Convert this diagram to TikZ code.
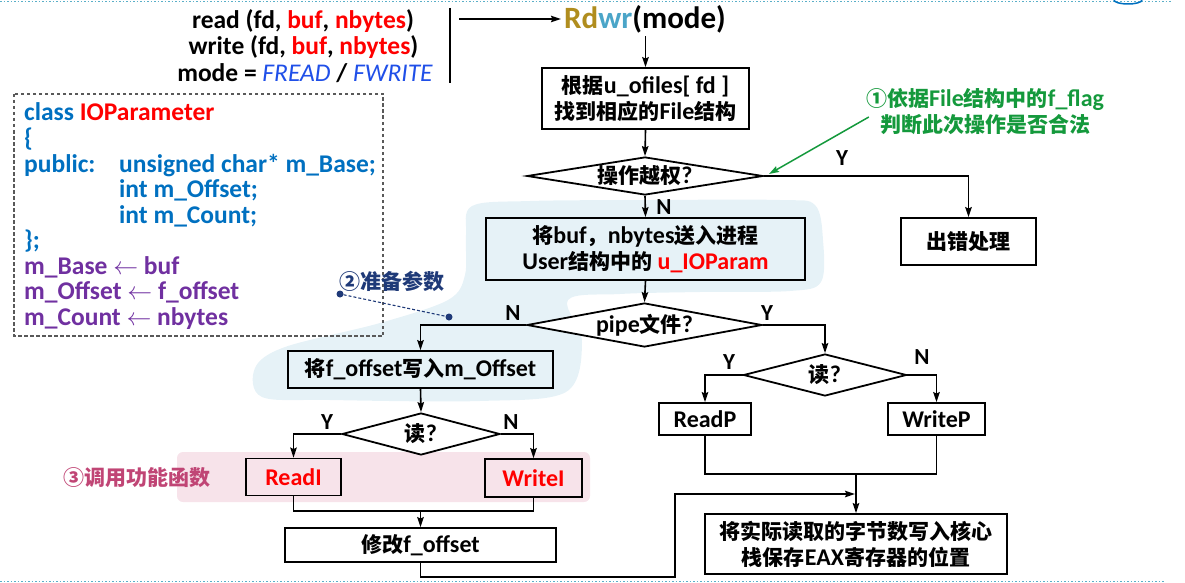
\documentclass[tikz,border=0pt]{standalone}
\usepackage{fontspec}
\setmainfont{Carlito}
\newfontfamily\cjk{Noto Sans CJK SC}[Scale=0.875]
\newcommand\C[1]{{\cjk #1}}
\usetikzlibrary{shapes.geometric,arrows.meta}
\definecolor{codeblue}{HTML}{0070C0}
\definecolor{purp}{HTML}{7030A0}
\definecolor{fblue}{HTML}{1F4FE8}
\definecolor{rdcol}{HTML}{B08D1E}
\definecolor{wrcol}{HTML}{4BA5C8}
\definecolor{gcol}{HTML}{14993C}
\definecolor{navy}{HTML}{1F3A78}
\definecolor{crim}{HTML}{C04575}
\definecolor{blobc}{HTML}{E6F2F7}
\definecolor{pinkc}{HTML}{F7E3EA}
\definecolor{dotc}{HTML}{5AAFC8}
\tikzset{
 base/.style={font=\bfseries\fontsize{24}{26}\selectfont, inner sep=0pt, align=center},
 box/.style={base, draw, line width=1.8pt, fill=white},
 dia/.style={base, draw, line width=1.8pt, shape=diamond, fill=white},
 yn/.style={font=\bfseries\fontsize{23}{23}\selectfont, inner sep=0pt},
 arr/.style={line width=1.6pt, -{Stealth[length=10pt,width=6.5pt,inset=1.5pt]}},
 ln/.style={line width=1.6pt},
 code/.style={font=\bfseries\fontsize{25.5}{26}\selectfont, inner sep=0pt, anchor=base west},
 toptxt/.style={font=\bfseries\fontsize{25.5}{26}\selectfont, inner sep=0pt},
 dot/.style={circle, fill=navy, inner sep=0pt, minimum size=7pt},
}
\begin{document}
\begin{tikzpicture}[x=1pt,y=-1pt]
\useasboundingbox (0,0) rectangle (1185,583);
% slide decorations
\draw[dotc, dotted, line width=1.5pt] (0,1.5) -- (1172,1.5);
\draw[dotc, dotted, line width=1.5pt] (0,581.5) -- (1165,581.5);
\draw[codeblue, line width=1.5pt] (1114,0) arc[start angle=180, end angle=0, x radius=14, y radius=4];
% background highlights
\fill[blobc] plot[smooth cycle, tension=0.55] coordinates {
 (472,206) (530,201) (650,200) (780,200) (815,205) (823,240) (821,282) (790,291)
 (700,292) (620,294) (568,300) (582,342) (566,392) (480,401) (330,400) (262,397)
 (255,368) (285,347) (380,323) (448,300) (465,275) (466,235)};
\fill[pinkc, rounded corners=6pt] (177,452) rectangle (590,502);
% code box
\draw[gray!70!black, dashed, dash pattern=on 3.5pt off 2.5pt, line width=1.1pt] (14,94) rectangle (383,336);
\node[code] (c1) at (24,121) {\textcolor{codeblue}{class} \textcolor{red}{IOParameter}};
\node[code, text=codeblue] (c2) at (24,146.5) {\{};
\node[code, text=codeblue] (c3) at (24,172) {public:};
\node[code, text=codeblue] (c3b) at (119,172) {unsigned char* m\_Base;};
\node[code, text=codeblue] (c4) at (119,197.5) {int m\_Offset;};
\node[code, text=codeblue] (c5) at (119,223) {int m\_Count;};
\node[code, text=codeblue] (c6) at (24,248.5) {\};};
\node[code, text=purp] (c7) at (24,274) {m\_Base $\leftarrow$ buf};
\node[code, text=purp] (c8) at (24,299.5) {m\_Offset $\leftarrow$ f\_offset};
\node[code, text=purp] (c9) at (24,325) {m\_Count $\leftarrow$ nbytes};
% top texts
\node[toptxt] (t1) at (303,21) {read (fd, \textcolor{red}{buf}, \textcolor{red}{nbytes})};
\node[toptxt] (t2) at (303.5,47) {write (fd, \textcolor{red}{buf}, \textcolor{red}{nbytes})};
\node[toptxt] (t3) at (305,73) {mode = \textcolor{fblue}{\mdseries\itshape FREAD} / \textcolor{fblue}{\mdseries\itshape FWRITE}};
\coordinate (vt) at (450,8);
\coordinate (vb) at (450,83);
\draw[line width=1.8pt] (vt) -- (vb);
\coordinate (astart) at (459,19);
\node[font=\bfseries\fontsize{31}{31}\selectfont, inner sep=3pt] (rdwr) at (645,19) {\textcolor{rdcol}{Rd}\textcolor{wrcol}{wr}(mode)};
% flowchart
\node[box, minimum width=207pt, minimum height=61pt] (b1) at (645.5,98.5) {\C{根据}u\_ofiles[ fd ]\\\C{找到相应的}File\C{结构}};
\node[dia, minimum width=236pt, minimum height=38pt] (d1) at (645,176) {\makebox[0pt]{\C{操作越权}?}};
\node[box, minimum width=135pt, minimum height=47pt] (err) at (968.5,241.5) {\C{出错处理}};
\node[box, fill=blobc, minimum width=319pt, minimum height=62pt] (b2) at (645.5,249) {\C{将}buf\C{，}nbytes\C{送入进程}\\User\C{结构中的} \textcolor{red}{u\_IOParam}};
\node[dia, minimum width=235pt, minimum height=44pt] (d2) at (644.5,325) {\makebox[0pt]{pipe\C{文件}?}};
\node[box, fill=blobc, minimum width=265pt, minimum height=37pt] (b3) at (420.5,369.5) {\C{将}f\_offset\C{写入}m\_Offset};
\node[dia, minimum width=158pt, minimum height=42pt] (d3) at (421,434) {\makebox[0pt]{\C{读}?}};
\node[box, fill=pinkc, text=red, minimum width=95pt, minimum height=37pt] (ri) at (293.5,477) {ReadI};
\node[box, fill=pinkc, text=red, minimum width=97pt, minimum height=38pt] (wi) at (533.5,478) {WriteI};
\node[box, minimum width=271pt, minimum height=34pt] (mod) at (420.5,545) {\C{修改}f\_offset};
\node[dia, minimum width=163pt, minimum height=42pt] (d4) at (825,375) {\makebox[0pt]{\C{读}?}};
\node[box, minimum width=92pt, minimum height=32pt] (rp) at (705,419) {ReadP};
\node[box, minimum width=97pt, minimum height=32pt] (wp) at (936.5,419) {WriteP};
\node[box, minimum width=302pt, minimum height=60pt] (fin) at (856,544) {\C{将实际读取的字节数写入核心}\\\C{栈保存}EAX\C{寄存器的位置}};
% labels
\node[yn] (y1) at (842,158) {Y};
\node[yn] (n1) at (664,207) {N};
\node[yn] (n2) at (513,313) {N};
\node[yn] (y2) at (767,313) {Y};
\node[yn] (y3) at (327,422) {Y};
\node[yn] (n3) at (511,422) {N};
\node[yn] (y4) at (729,362) {Y};
\node[yn] (n4) at (922,357) {N};
% connectors
\draw[arr] (astart) -- (rdwr.west);
\draw[arr] (rdwr.south -| b1.north) -- (b1.north);
\draw[arr] (b1.south) -- (d1.north);
\draw[arr] (d1.east) -| (err.north);
\draw[arr] (d1.south) -- (b2.north);
\draw[arr] (b2.south) -- (d2.north);
\draw[arr] (d2.west) -| (b3.north);
\draw[arr] (d2.east) -| (d4.north);
\draw[arr] (b3.south) -- (d3.north);
\draw[arr] (d3.west) -| (ri.north);
\draw[arr] (d3.east) -| (wi.north);
\coordinate (j1) at (420.5,511);
\draw[ln] (ri.south) |- (j1) -| (wi.south);
\draw[arr] (j1) -- (mod.north);
\draw[arr] (d4.west) -| (rp.north);
\draw[arr] (d4.east) -| (wp.north);
\coordinate (j2) at (856,474);
\draw[ln] (rp.south) |- (j2) -| (wp.south);
\draw[arr] (j2) -- (fin.north);
\coordinate (j3) at (675,577);
\coordinate (j4) at (855,494);
\draw[arr] (mod.south) |- (j3) |- (j4);
% annotations
\node[base, text=gcol] (ann1) at (985,112) {\C{①依据}File\C{结构中的}f\_flag\\\C{判断此次操作是否合法}};
\coordinate (gend) at (769,174);
\draw[gcol, line width=1.5pt, -{Stealth[length=10pt,width=6.5pt,inset=1.5pt]}] ([shift={(3,5)}]ann1.west) -- (gend);
\node[base, text=navy] (ann2) at (392,281) {\C{②准备参数}};
\node[dot] (p1) at (340,294) {};
\node[dot] (p2) at (449,317) {};
\draw[navy, dashed, dash pattern=on 3pt off 2pt, line width=1.1pt] (p1) -- (p2);
\node[base, text=crim] (ann3) at (137,478) {\C{③调用功能函数}};
\end{tikzpicture}
\end{document}
